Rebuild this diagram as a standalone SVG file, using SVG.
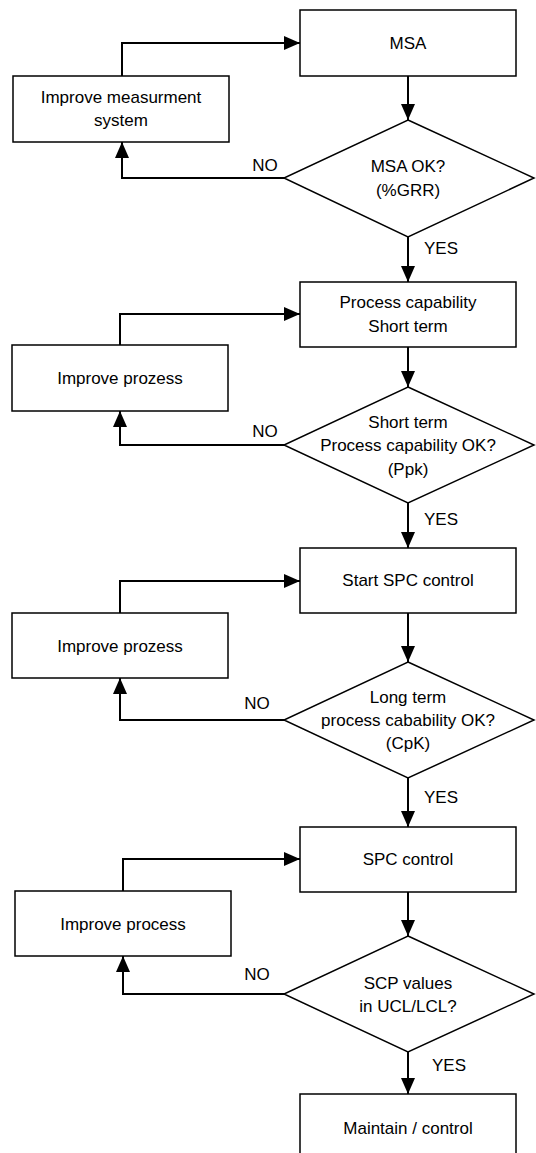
<svg xmlns="http://www.w3.org/2000/svg" width="536" height="1153" viewBox="0 0 536 1153">
<style>
.box{fill:#fff;stroke:#000;stroke-width:1.5}
.dia{fill:#fff;stroke:#000;stroke-width:1.5}
.t{font-family:"Liberation Sans",Arial,sans-serif;font-size:17px;fill:#000;text-anchor:middle}
.c{fill:none;stroke:#000;stroke-width:2;marker-end:url(#ah)}
</style>
<defs>
<marker id="ah" markerUnits="userSpaceOnUse" markerWidth="16" markerHeight="14" refX="16" refY="7" orient="auto">
<path d="M0,0 L16,7 L0,14 z" fill="#000"/>
</marker>
</defs>
<rect width="536" height="1153" fill="#fff"/>
<g id="connectors">
<path class="c" d="M408,76 V120"/>
<path class="c" d="M408,237 V282"/>
<path class="c" d="M284,178 H122 V142"/>
<path class="c" d="M122,76 V43 H300"/>
<path class="c" d="M408,347 V387"/>
<path class="c" d="M408,503 V548"/>
<path class="c" d="M284,445 H120 V411"/>
<path class="c" d="M120,345 V314 H300"/>
<path class="c" d="M408,613 V662"/>
<path class="c" d="M408,778 V827"/>
<path class="c" d="M284,720 H120 V678"/>
<path class="c" d="M120,613 V581 H300"/>
<path class="c" d="M408,892 V936"/>
<path class="c" d="M408,1052 V1094"/>
<path class="c" d="M284,994 H123 V956"/>
<path class="c" d="M123,891 V859 H300"/>
<text class="t" x="265" y="171">NO</text>
<text class="t" x="441" y="254">YES</text>
<text class="t" x="265" y="437">NO</text>
<text class="t" x="441" y="525">YES</text>
<text class="t" x="257" y="709">NO</text>
<text class="t" x="441" y="803">YES</text>
<text class="t" x="257" y="980">NO</text>
<text class="t" x="449" y="1071">YES</text>
</g>
<g id="msa"><rect class="box" x="300" y="10" width="216" height="66"/><text class="t" x="408" y="49">MSA</text></g>
<g id="improve-measurement"><rect class="box" x="13" y="76" width="216" height="66"/><text class="t" x="121" y="103">Improve measurment</text><text class="t" x="121" y="126">system</text></g>
<g id="msa-ok"><polygon class="dia" points="408,120 534,178 408,237 284,178"/><text class="t" x="408" y="172">MSA OK?</text><text class="t" x="408" y="196">(%GRR)</text></g>
<g id="process-capability"><rect class="box" x="300" y="282" width="216" height="65"/><text class="t" x="408" y="308">Process capability</text><text class="t" x="408" y="332">Short term</text></g>
<g id="improve-prozess-1"><rect class="box" x="12" y="345" width="216" height="66"/><text class="t" x="120" y="384">Improve prozess</text></g>
<g id="short-term-ok"><polygon class="dia" points="408,387 534,445 408,503 284,445"/><text class="t" x="408" y="428">Short term</text><text class="t" x="408" y="451">Process capability OK?</text><text class="t" x="408" y="475">(Ppk)</text></g>
<g id="start-spc"><rect class="box" x="300" y="548" width="216" height="65"/><text class="t" x="408" y="586">Start SPC control</text></g>
<g id="improve-prozess-2"><rect class="box" x="12" y="613" width="216" height="65"/><text class="t" x="120" y="652">Improve prozess</text></g>
<g id="long-term-ok"><polygon class="dia" points="408,662 534,720 408,778 284,720"/><text class="t" x="408" y="703">Long term</text><text class="t" x="408" y="726">process cabability OK?</text><text class="t" x="408" y="749">(CpK)</text></g>
<g id="spc-control"><rect class="box" x="300" y="827" width="216" height="65"/><text class="t" x="408" y="865">SPC control</text></g>
<g id="improve-process-3"><rect class="box" x="15" y="891" width="216" height="65"/><text class="t" x="123" y="930">Improve process</text></g>
<g id="scp-values"><polygon class="dia" points="408,936 534,994 408,1052 284,994"/><text class="t" x="408" y="989">SCP values</text><text class="t" x="408" y="1012">in UCL/LCL?</text></g>
<g id="maintain"><rect class="box" x="300" y="1094" width="216" height="66"/><text class="t" x="408" y="1134">Maintain / control</text></g>
</svg>
